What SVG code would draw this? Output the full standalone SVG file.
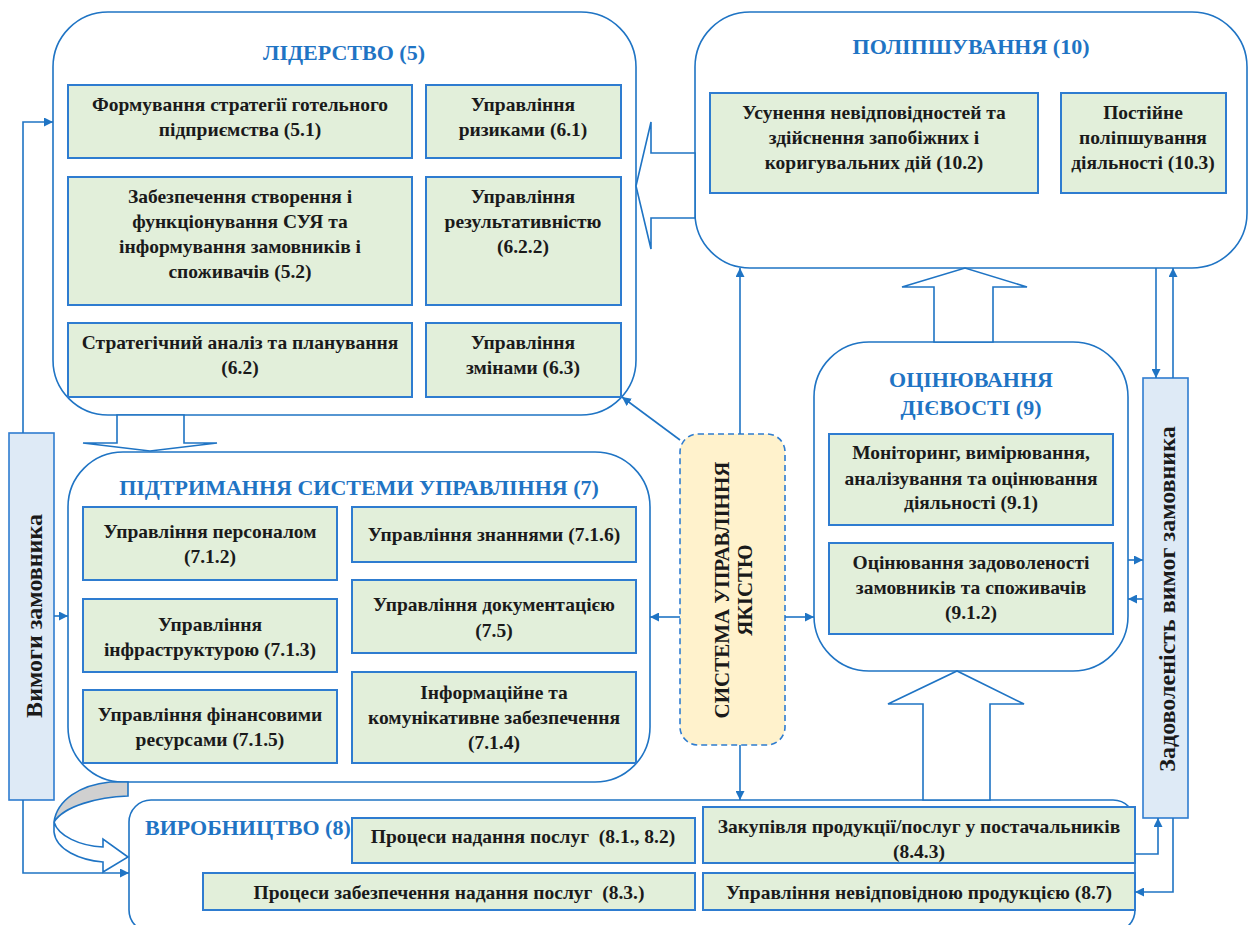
<svg xmlns="http://www.w3.org/2000/svg" width="1248" height="925" viewBox="0 0 1248 925">
<defs>
<marker id="ah" viewBox="0 0 10 10" refX="10" refY="5" markerWidth="9" markerHeight="9" markerUnits="userSpaceOnUse" orient="auto">
<path d="M0,0 L10,5 L0,10 z" fill="#1F74C4"/>
</marker>
<style>
.cont{fill:#FFFFFF;stroke:#1F74C4;stroke-width:1.6}
.box{fill:#E2EFDA;stroke:#2E7CD0;stroke-width:2}
.side{fill:#DEEAF6;stroke:#2E7CD0;stroke-width:1.6}
.qms{fill:#FFF2CC;stroke:#2E7CD0;stroke-width:1.6;stroke-dasharray:6 4}
.hollow{fill:#FFFFFF;stroke:#1F74C4;stroke-width:1.6;stroke-linejoin:miter}
.conn{fill:none;stroke:#1F74C4;stroke-width:1.6;marker-end:url(#ah)}
text{font-family:'Liberation Serif','DejaVu Serif',serif;font-weight:bold}
.t{font-size:19.5px;fill:#1a1a1a;text-anchor:middle}
.h{font-size:22px;fill:#1F74C4;text-anchor:middle}
.v{font-size:24px;fill:#1a1a1a;text-anchor:middle}
.q{font-size:21px;fill:#1a1a1a;text-anchor:middle}
.pre{white-space:pre}
</style>
</defs>

<!-- containers -->
<g id="leadership">
<rect class="cont" x="53" y="12" width="583" height="403" rx="55"/>
<text class="h" x="344" y="60">ЛІДЕРСТВО (5)</text>
</g>
<g id="improvement">
<rect class="cont" x="695" y="12" width="552" height="256" rx="55"/>
<text class="h" x="971" y="54">ПОЛІПШУВАННЯ (10)</text>
</g>
<g id="support">
<rect class="cont" x="68" y="452" width="582" height="330" rx="55"/>
<text class="h" x="359" y="495">ПІДТРИМАННЯ СИСТЕМИ УПРАВЛІННЯ (7)</text>
</g>
<g id="evaluation">
<rect class="cont" x="814" y="342" width="314" height="329" rx="55"/>
<text class="h" x="971" y="387">ОЦІНЮВАННЯ</text>
<text class="h" x="971" y="415">ДІЄВОСТІ (9)</text>
</g>
<g id="production">
<rect class="cont" x="129" y="800" width="1006" height="132" rx="22"/>
<text class="h" x="145" y="835" style="text-anchor:start">ВИРОБНИЦТВО (8)</text>
</g>

<!-- hollow block arrows -->
<g id="block-arrows">
<polygon class="hollow" points="695,153 651,153 651,122 636,186 651,249 651,218 695,218"/>
<polygon class="hollow" points="117,415 117,443 83,443 150,451 217,443 184,443 184,415"/>
<polygon class="hollow" points="934,342 934,287 902,287 965,268 1027,287 993,287 993,342"/>
<polygon class="hollow" points="923,800 923,704 888,704 957,671 1024,704 990,704 990,800"/>
<path d="M110,782 L128,782 L128,796 C98,797 64,806 54,822 C57,800 80,785 110,782 Z" fill="#D0D0D0" stroke="#1F74C4" stroke-width="1.6"/>
<path d="M54,822 L54,832 C56,850 80,860 103,862 L103,872 L128,857 L103,839 L103,847 C80,846 58,836 54,822 Z" fill="#FFFFFF" stroke="#1F74C4" stroke-width="1.6"/>
</g>

<!-- leadership boxes -->
<g id="n51"><rect class="box" x="68" y="85" width="344" height="73"/>
<text class="t" x="240" y="111">Формування стратегії готельного</text>
<text class="t" x="240" y="136">підприємства (5.1)</text></g>
<g id="n52"><rect class="box" x="68" y="177" width="344" height="128"/>
<text class="t" x="240" y="203">Забезпечення створення і</text>
<text class="t" x="240" y="228">функціонування СУЯ та</text>
<text class="t" x="240" y="253">інформування замовників і</text>
<text class="t" x="240" y="278">споживачів (5.2)</text></g>
<g id="n62a"><rect class="box" x="68" y="323" width="344" height="74"/>
<text class="t" x="240" y="349">Стратегічний аналіз та планування</text>
<text class="t" x="240" y="374">(6.2)</text></g>
<g id="n61"><rect class="box" x="426" y="85" width="195" height="73"/>
<text class="t" x="523" y="111">Управління</text>
<text class="t" x="523" y="136">ризиками (6.1)</text></g>
<g id="n622"><rect class="box" x="426" y="177" width="195" height="128"/>
<text class="t" x="523" y="203">Управління</text>
<text class="t" x="523" y="228">результативністю</text>
<text class="t" x="523" y="253">(6.2.2)</text></g>
<g id="n63"><rect class="box" x="426" y="323" width="195" height="74"/>
<text class="t" x="523" y="349">Управління</text>
<text class="t" x="523" y="374">змінами (6.3)</text></g>

<!-- improvement boxes -->
<g id="n102"><rect class="box" x="710" y="93" width="328" height="100"/>
<text class="t" x="874" y="119">Усунення невідповідностей та</text>
<text class="t" x="874" y="144">здійснення запобіжних і</text>
<text class="t" x="874" y="169">коригувальних дій (10.2)</text></g>
<g id="n103"><rect class="box" x="1061" y="93" width="165" height="100"/>
<text class="t" x="1143" y="119">Постійне</text>
<text class="t" x="1143" y="144">поліпшування</text>
<text class="t" x="1143" y="169">діяльності (10.3)</text></g>

<!-- support boxes -->
<g id="n712"><rect class="box" x="83" y="507" width="254" height="73"/>
<text class="t" x="210" y="538">Управління персоналом</text>
<text class="t" x="210" y="563">(7.1.2)</text></g>
<g id="n713"><rect class="box" x="83" y="599" width="254" height="73"/>
<text class="t" x="210" y="631">Управління</text>
<text class="t" x="210" y="656">інфраструктурою (7.1.3)</text></g>
<g id="n715"><rect class="box" x="83" y="690" width="254" height="73"/>
<text class="t" x="210" y="721">Управління фінансовими</text>
<text class="t" x="210" y="746">ресурсами (7.1.5)</text></g>
<g id="n716"><rect class="box" x="352" y="507" width="284" height="55"/>
<text class="t" x="494" y="541">Управління знаннями (7.1.6)</text></g>
<g id="n75"><rect class="box" x="352" y="580" width="284" height="73"/>
<text class="t" x="494" y="611">Управління документацією</text>
<text class="t" x="494" y="637">(7.5)</text></g>
<g id="n714"><rect class="box" x="352" y="672" width="284" height="91"/>
<text class="t" x="494" y="699">Інформаційне та</text>
<text class="t" x="494" y="724">комунікативне забезпечення</text>
<text class="t" x="494" y="749">(7.1.4)</text></g>

<!-- evaluation boxes -->
<g id="n91"><rect class="box" x="829" y="434" width="284" height="91"/>
<text class="t" x="971" y="459">Моніторинг, вимірювання,</text>
<text class="t" x="971" y="485">аналізування та оцінювання</text>
<text class="t" x="971" y="509">діяльності (9.1)</text></g>
<g id="n912"><rect class="box" x="829" y="543" width="284" height="91"/>
<text class="t" x="971" y="569">Оцінювання задоволеності</text>
<text class="t" x="971" y="594">замовників та споживачів</text>
<text class="t" x="971" y="619">(9.1.2)</text></g>

<!-- production boxes -->
<g id="n81"><rect class="box" x="352" y="818" width="343" height="45"/>
<text class="t pre" x="523" y="843">Процеси надання послуг  (8.1., 8.2)</text></g>
<g id="n83"><rect class="box" x="203" y="873" width="492" height="37"/>
<text class="t pre" x="449" y="899">Процеси забезпечення надання послуг  (8.3.)</text></g>
<g id="n843"><rect class="box" x="703" y="807" width="432" height="56"/>
<text class="t" x="919" y="833">Закупівля продукції/послуг у постачальників</text>
<text class="t" x="919" y="858">(8.4.3)</text></g>
<g id="n87"><rect class="box" x="703" y="873" width="432" height="37"/>
<text class="t" x="919" y="899">Управління невідповідною продукцією (8.7)</text></g>

<!-- side boxes -->
<g id="customer-req"><rect class="side" x="9" y="433" width="45" height="367"/>
<text class="v" transform="translate(42,616) rotate(-90)">Вимоги замовника</text></g>
<g id="customer-sat"><rect class="side" x="1143" y="378" width="45" height="440"/>
<text class="v" transform="translate(1175,599) rotate(-90)">Задоволеність вимог замовника</text></g>

<!-- QMS -->
<g id="qms"><rect class="qms" x="680" y="434" width="105" height="311" rx="18"/>
<text class="q" transform="translate(729,590) rotate(-90)">СИСТЕМА УПРАВЛІННЯ</text>
<text class="q" transform="translate(752,590) rotate(-90)">ЯКІСТЮ</text></g>

<!-- connectors -->
<g id="connectors">
<path class="conn" d="M23,433 V122 H53"/>
<path class="conn" d="M54,616 H68"/>
<path class="conn" d="M23,800 V873 H129"/>
<path class="conn" d="M740,434 V268"/>
<path class="conn" d="M680,440 L622,397"/>
<path class="conn" d="M680,617 H650"/>
<path class="conn" d="M785,617 H814"/>
<path class="conn" d="M740,745 V800"/>
<path class="conn" d="M1128,560 H1143"/>
<path class="conn" d="M1143,599 H1128"/>
<path class="conn" d="M1156,268 V378"/>
<path class="conn" d="M1173,378 V268"/>
<path class="conn" d="M1135,854 H1158 V818"/>
<path class="conn" d="M1173,818 V892 H1135"/>
</g>
</svg>
